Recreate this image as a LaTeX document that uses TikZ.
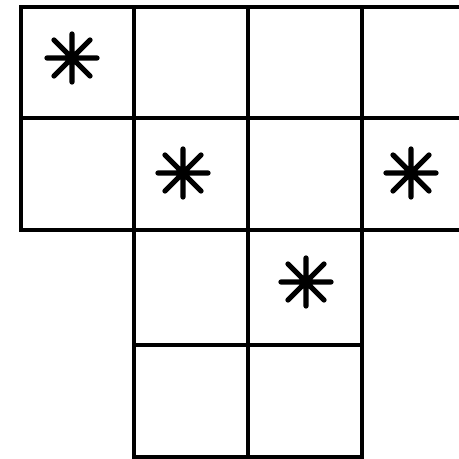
\documentclass[tikz,border=0pt]{standalone}
\usepackage{tikz}

\tikzset{
  cellline/.style={line width=1.2pt, line cap=rect},
  starline/.style={line width=1.5pt, line cap=round}
}

\begin{document}
\begin{tikzpicture}[x=0.01cm,y=-0.01cm]
\useasboundingbox (0,0) rectangle (459,459);
% grid rows
\foreach \y in {7,118,230}{
  \draw[cellline] (21,\y) -- (459,\y);
}
\foreach \y in {345,457}{
  \draw[cellline] (134,\y) -- (362,\y);
}
% grid columns
\draw[cellline] (21,7) -- (21,230);
\foreach \x in {134,248,362}{
  \draw[cellline] (\x,7) -- (\x,457);
}
% asterisks
\foreach \x/\y in {72/58, 183/173, 411/173, 306/282}{
  \begin{scope}[shift={(\x,\y)}]
    \draw[starline] (-25,0) -- (25,0) (0,-24) -- (0,24)
      (-18,-18) -- (18,18) (18,-18) -- (-18,18);
  \end{scope}
}
\end{tikzpicture}
\end{document}
